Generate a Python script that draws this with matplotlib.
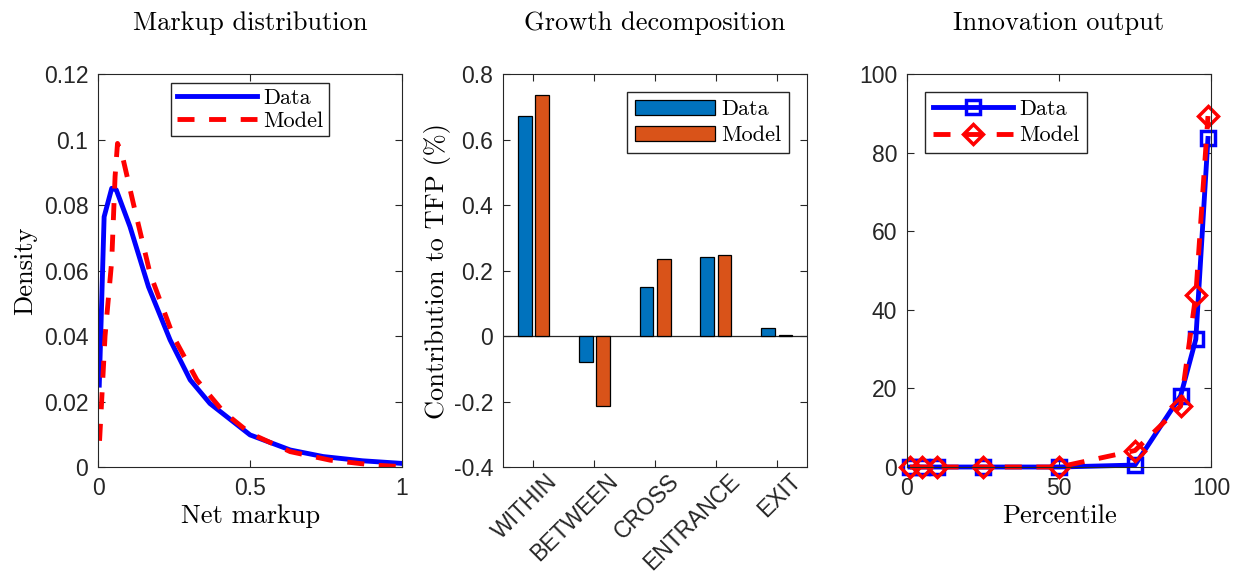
import numpy as np
import matplotlib
matplotlib.use('Agg')
import matplotlib.pyplot as plt
import matplotlib.ticker as tick
import matplotlib.transforms as mtrans

# panel 1: markup density
markup_data_x = [0.004, 0.02, 0.045, 0.06, 0.105, 0.166, 0.237, 0.303, 0.368, 0.5, 0.632, 0.74, 0.87, 1.0]
markup_data_y = [0.025, 0.0764, 0.0851, 0.0846, 0.0734, 0.055, 0.0388, 0.0266, 0.0194, 0.0098, 0.0052, 0.0032, 0.0019, 0.0011]
markup_model_x = [0.005, 0.023, 0.045, 0.056, 0.064, 0.078, 0.116, 0.171, 0.248, 0.325, 0.412, 0.5, 0.632, 0.763, 0.906, 1.0]
markup_model_y = [0.008, 0.040, 0.063, 0.0887, 0.0988, 0.0958, 0.0805, 0.0591, 0.0398, 0.0266, 0.0169, 0.0103, 0.0047, 0.0021, 0.0006, 0.0001]

# panel 2: growth decomposition
components = ['WITHIN', 'BETWEEN', 'CROSS', 'ENTRANCE', 'EXIT']
growth_data = [0.672, -0.080, 0.149, 0.241, 0.024]
growth_model = [0.737, -0.213, 0.235, 0.247, 0.002]

# panel 3: innovation output by percentile
pct = [1, 5, 10, 25, 50, 75, 90, 95, 99]
innov_data = [0, 0, 0, 0, 0, 0.5, 18.1, 32.5, 83.6]
innov_model = [0, 0, 0, 0, 0, 4.2, 15.5, 43.8, 89.3]

c_blue = '#0072BD'
c_orange = '#D95319'
axcol = '#262626'
serif = 'cmr10'
sans = 'Liberation Sans'
fs_lab = 19
fs_tick = 16.5
dash = (3.5, 3.0)

fig = plt.figure(figsize=(12.38, 5.79), dpi=100)
bottom, height = 0.1934, 0.6788
width = 0.2456
lefts = [0.0792, 0.4063, 0.7326]
axs = [fig.add_axes([l, bottom, width, height]) for l in lefts]

def style(ax):
    for s in ax.spines.values():
        s.set_color(axcol)
        s.set_linewidth(0.8)
    ax.tick_params(direction='in', top=True, right=True, length=5, width=0.8,
                   color=axcol, labelcolor=axcol, labelsize=fs_tick, pad=7)
    for lab in ax.get_xticklabels() + ax.get_yticklabels():
        lab.set_family(sans)

def gfmt(v, pos):
    return '%g' % round(v, 6)

leg_kw = dict(prop={'family': serif, 'size': 16}, fancybox=False, edgecolor=axcol,
              framealpha=1, borderpad=0.25, labelspacing=0.15, handlelength=3.6,
              handletextpad=0.3, borderaxespad=0.4)

# --- panel 1
ax = axs[0]
ax.plot(markup_data_x, markup_data_y, color='blue', lw=3.5, label='Data')
ax.plot(markup_model_x, markup_model_y, color='red', lw=3.5, dashes=dash, label='Model')
ax.set_xlim(0, 1)
ax.set_ylim(0, 0.12)
ax.set_xticks([0, 0.5, 1])
ax.set_yticks(np.arange(0, 0.121, 0.02))
ax.xaxis.set_major_formatter(tick.FuncFormatter(gfmt))
ax.yaxis.set_major_formatter(tick.FuncFormatter(gfmt))
ax.set_title('Markup distribution', family=serif, size=fs_lab, pad=32)
ax.set_xlabel('Net markup', family=serif, size=fs_lab, labelpad=3)
ax.set_ylabel('Density', family=serif, size=fs_lab, labelpad=5)
ax.legend(loc='upper center', **leg_kw)
style(ax)

# --- panel 2
ax = axs[1]
pos = np.arange(1, len(components) + 1)
bw = 0.225
ax.bar(pos - 0.14, growth_data, width=bw, color=c_blue, edgecolor='black', lw=0.9, label='Data')
ax.bar(pos + 0.145, growth_model, width=bw, color=c_orange, edgecolor='black', lw=0.9, label='Model')
ax.axhline(0, color=axcol, lw=0.9, zorder=0.5)
ax.set_xlim(0.5, 5.5)
ax.set_ylim(-0.4, 0.8)
ax.set_yticks(np.arange(-0.4, 0.81, 0.2))
ax.yaxis.set_major_formatter(tick.FuncFormatter(gfmt))
ax.set_xticks(pos)
ax.set_xticklabels(components, rotation=45, ha='right', rotation_mode='anchor')
ax.set_title('Growth decomposition', family=serif, size=fs_lab, pad=32)
ax.set_ylabel('Contribution to TFP (%)', family=serif, size=fs_lab, labelpad=2)
ax.legend(loc='upper right', **dict(leg_kw, labelspacing=0.3, borderpad=0.35,
                                   borderaxespad=0.8))
style(ax)
ax.tick_params(axis='x', pad=2)
shift = mtrans.ScaledTranslation(9 / 72, 0, fig.dpi_scale_trans)
for lab in ax.get_xticklabels():
    lab.set_transform(lab.get_transform() + shift)

# --- panel 3
ax = axs[2]
ax.plot(pct, innov_data, color='blue', lw=3.5, marker='s', ms=9.5, mew=2.5,
        mfc='none', label='Data')
ax.plot(pct, innov_model, color='red', lw=3.5, dashes=dash, marker='D', ms=10.5,
        mew=2.5, mfc='none', label='Model')
ax.set_xlim(0, 100)
ax.set_ylim(0, 100)
ax.set_xticks([0, 50, 100])
ax.set_yticks(np.arange(0, 101, 20))
ax.set_title('Innovation output', family=serif, size=fs_lab, pad=32)
ax.set_xlabel('Percentile', family=serif, size=fs_lab, labelpad=3)
ax.legend(loc='upper left', **dict(leg_kw, labelspacing=0.3, borderpad=0.35,
                                  borderaxespad=0.8))
style(ax)
for line in ax.lines:
    line.set_clip_on(False)

fig.savefig('out.png', dpi=100)
